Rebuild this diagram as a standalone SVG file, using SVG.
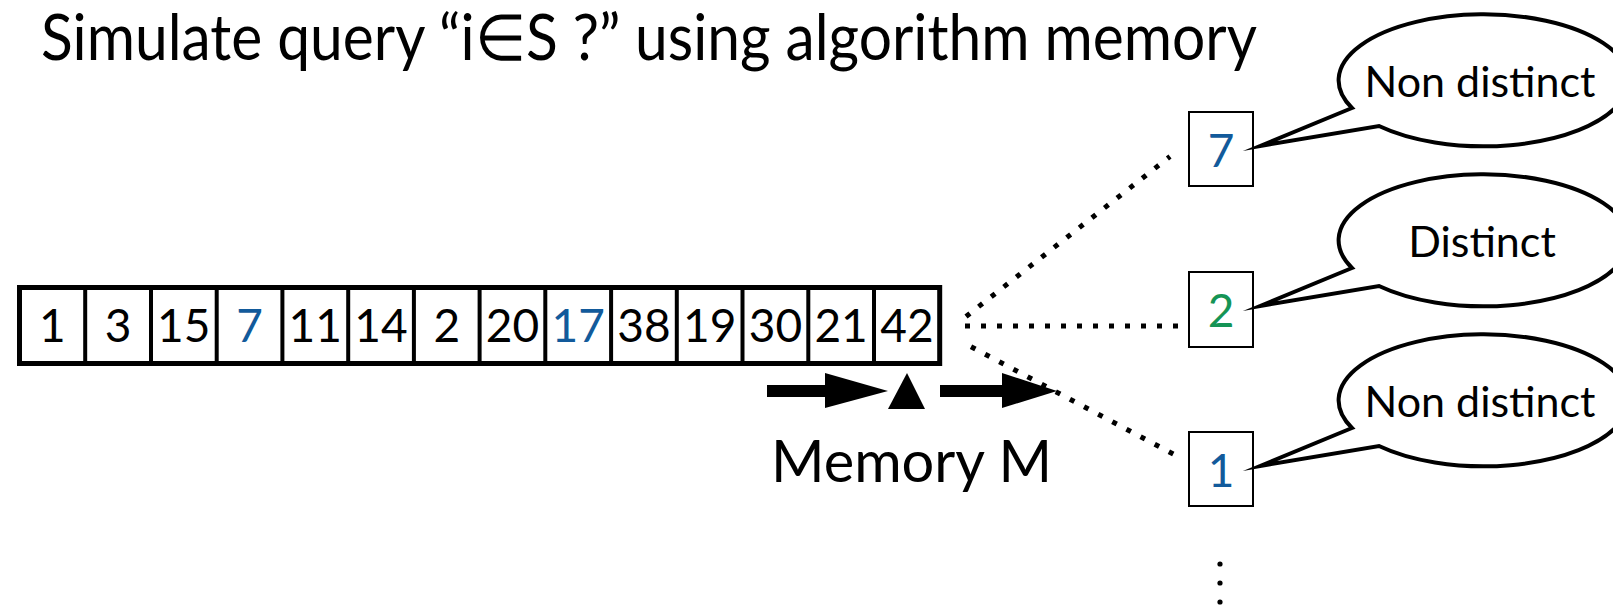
<svg xmlns="http://www.w3.org/2000/svg" width="1613" height="607" viewBox="0 0 1613 607">
  <style>
    text { font-family: Lato, "Open Sans", "Liberation Sans", sans-serif; fill: #000; }
    .title { font-size: 64px; }
    .num { font-size: 46px; text-anchor: middle; }
    .blue { fill: #125a9b; }
    .green { fill: #159455; }
    .label { font-size: 58px; }
    .say { font-size: 43px; text-anchor: middle; }
    .cellsep { stroke: #000; stroke-width: 4; }
    .frame { fill: #fff; stroke: #000; stroke-width: 5; }
    .box { fill: #fff; stroke: #000; stroke-width: 2; }
    .bubble { fill: #fff; stroke: #000; stroke-width: 4; stroke-linejoin: miter; stroke-miterlimit: 20; }
    .dots { stroke: #000; stroke-width: 5; stroke-dasharray: 5 11; fill: none; }
  </style>
  <defs>
    <!-- speech bubble: ellipse with a pointed tail towards the query box -->
    <path id="callout" d="M1352,28 L1260,66 L1379,46 A145,66 0 1 0 1352,28 Z"/>
  </defs>

  <rect width="1613" height="607" fill="#fff"/>

  <text class="title" x="41" y="60" textLength="1216" lengthAdjust="spacingAndGlyphs">Simulate query “i∈S ?” using algorithm memory</text>

  <!-- memory array -->
  <g id="memory-array">
    <rect class="frame" x="19.5" y="287.5" width="920.2" height="76"/>
    <g class="cellsep">
      <line x1="85.2" y1="287.5" x2="85.2" y2="363.5"/>
      <line x1="151" y1="287.5" x2="151" y2="363.5"/>
      <line x1="216.7" y1="287.5" x2="216.7" y2="363.5"/>
      <line x1="282.4" y1="287.5" x2="282.4" y2="363.5"/>
      <line x1="348.2" y1="287.5" x2="348.2" y2="363.5"/>
      <line x1="413.9" y1="287.5" x2="413.9" y2="363.5"/>
      <line x1="479.6" y1="287.5" x2="479.6" y2="363.5"/>
      <line x1="545.3" y1="287.5" x2="545.3" y2="363.5"/>
      <line x1="611.1" y1="287.5" x2="611.1" y2="363.5"/>
      <line x1="676.8" y1="287.5" x2="676.8" y2="363.5"/>
      <line x1="742.5" y1="287.5" x2="742.5" y2="363.5"/>
      <line x1="808.3" y1="287.5" x2="808.3" y2="363.5"/>
      <line x1="874" y1="287.5" x2="874" y2="363.5"/>
    </g>
    <text class="num" x="52.4" y="342">1</text>
    <text class="num" x="118.1" y="342">3</text>
    <text class="num" x="183.8" y="342">15</text>
    <text class="num blue" x="249.6" y="342">7</text>
    <text class="num" x="315.3" y="342">11</text>
    <text class="num" x="381" y="342">14</text>
    <text class="num" x="446.8" y="342">2</text>
    <text class="num" x="512.5" y="342">20</text>
    <text class="num blue" x="578.2" y="342">17</text>
    <text class="num" x="643.9" y="342">38</text>
    <text class="num" x="709.7" y="342">19</text>
    <text class="num" x="775.4" y="342">30</text>
    <text class="num" x="841.1" y="342">21</text>
    <text class="num" x="906.9" y="342">42</text>
  </g>

  <!-- scan direction and current position -->
  <g id="scan-pointer">
    <rect x="767" y="385" width="60" height="12"/>
    <polygon points="825,373 888,391 825,408"/>
    <polygon points="888,409 907,373 925,409"/>
    <rect x="940" y="385" width="64" height="12"/>
    <polygon points="1002,373 1057,391 1002,408"/>
    <text class="label" x="771" y="482" textLength="281" lengthAdjust="spacingAndGlyphs">Memory M</text>
  </g>

  <!-- dotted links from the memory to the simulated queries -->
  <g id="connectors">
    <line class="dots" x1="966" y1="316.5" x2="1170" y2="156.5"/>
    <line class="dots" x1="965" y1="326" x2="1178" y2="326"/>
    <line class="dots" x1="971" y1="346.7" x2="1175" y2="455"/>
  </g>

  <g id="query-7">
    <rect class="box" x="1189" y="112" width="64" height="74"/>
    <text class="num blue" x="1221" y="167">7</text>
  </g>
  <g id="query-2">
    <rect class="box" x="1189" y="272" width="64" height="75"/>
    <text class="num green" x="1221" y="327">2</text>
  </g>
  <g id="query-1">
    <rect class="box" x="1189" y="432" width="64" height="74"/>
    <text class="num blue" x="1221" y="487">1</text>
  </g>

  <g id="answer-7" transform="translate(0,80)">
    <use href="#callout" class="bubble"/>
    <text class="say" x="1480" y="17">Non distinct</text>
  </g>
  <g id="answer-2" transform="translate(0,240)">
    <use href="#callout" class="bubble"/>
    <text class="say" x="1482" y="17">Distinct</text>
  </g>
  <g id="answer-1" transform="translate(0,400)">
    <use href="#callout" class="bubble"/>
    <text class="say" x="1480" y="17">Non distinct</text>
  </g>

  <g id="more-queries">
    <circle cx="1220" cy="564" r="2.6"/>
    <circle cx="1220" cy="583" r="2.6"/>
    <circle cx="1220" cy="602" r="2.6"/>
  </g>
</svg>
